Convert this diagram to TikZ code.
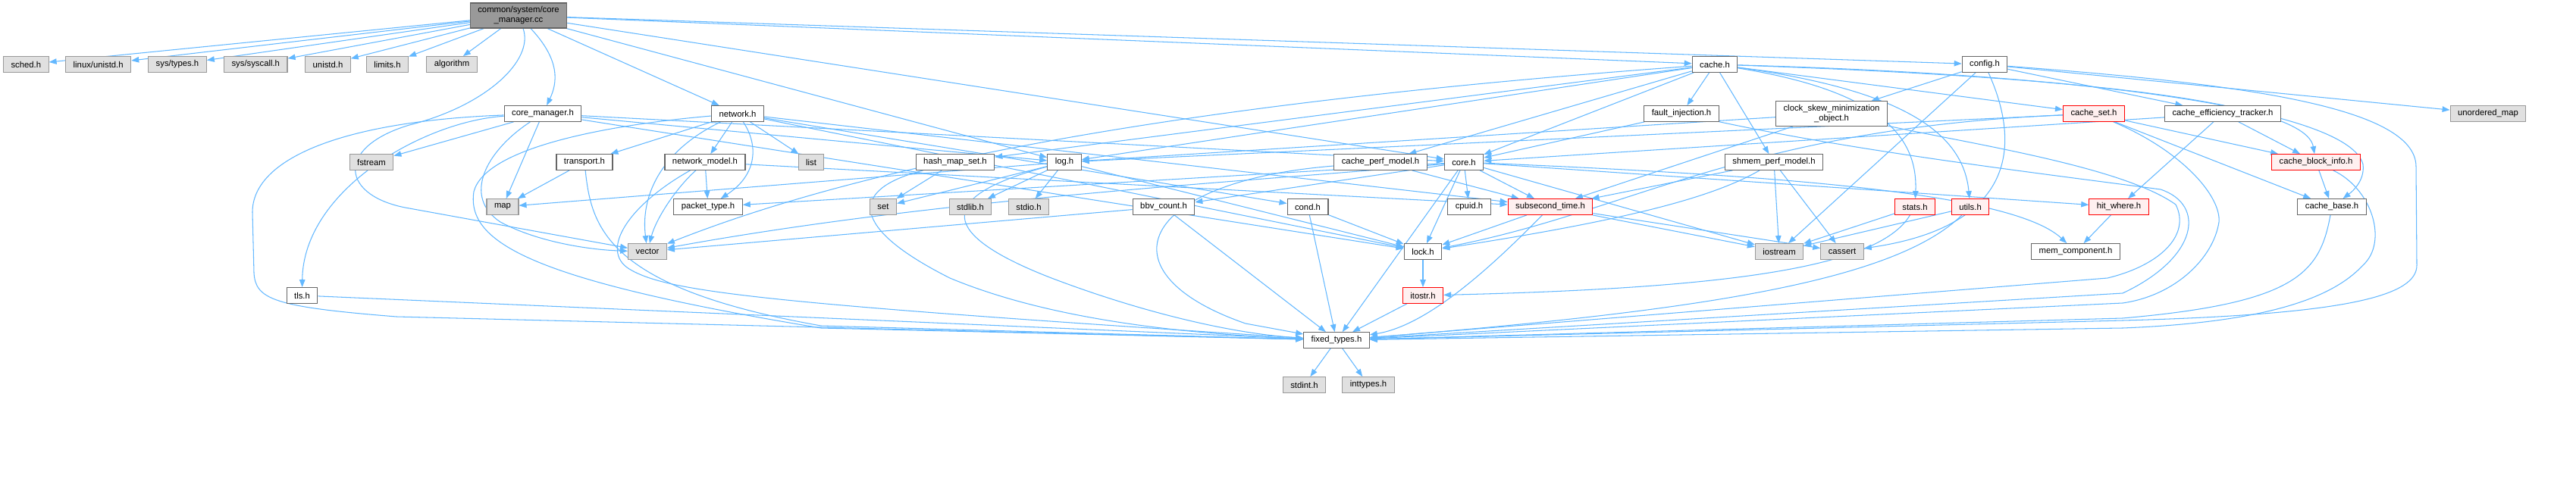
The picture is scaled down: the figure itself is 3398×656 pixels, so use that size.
\documentclass[tikz,border=0pt]{standalone}
\usepackage{fontspec}
\setmainfont{Liberation Sans}
\usetikzlibrary{arrows.meta}
\pgfdeclarelayer{edgelayer}
\pgfsetlayers{edgelayer,main}
\definecolor{edgeblue}{HTML}{63B8FF}
\definecolor{bordernorm}{HTML}{666666}
\definecolor{bordersys}{HTML}{999999}
\definecolor{fillsys}{HTML}{E0E0E0}
\definecolor{filltop}{HTML}{999999}
\definecolor{bordertr}{HTML}{FF0000}
\definecolor{filltr}{HTML}{FFF0F0}
\begin{document}
\begin{tikzpicture}[x=1pt,y=-1pt,
  base/.style={rectangle, minimum height=20.7pt, inner xsep=10pt, inner ysep=0pt, line width=1.1pt,
    font=\fontsize{11.3}{13}\selectfont},
  norm/.style={base, draw=bordernorm, fill=white},
  sys/.style={base, draw=bordersys, fill=fillsys},
  trunc/.style={base, draw=bordertr, fill=filltr},
  topnode/.style={base, draw=bordernorm, fill=filltop, align=center, minimum height=33pt},
  edge/.style={draw=edgeblue, line width=1.05pt, -{Triangle[length=10pt,width=7.5pt]}}]
\def\ra{85}\def\rb{150}\def\rc{214}\def\rd{273}\def\re{332}\def\rf{390}\def\rg{449}\def\rh{508}
% ---------- nodes ----------
\node[topnode] (cc) at (684,20.5) {common/system/core\\\_manager.cc};
\node[sys] (sched) at (34.3,\ra) {sched.h};
\node[sys] (lunistd) at (129.7,\ra) {linux/unistd.h};
\node[sys] (systypes) at (234,\ra) {sys/types.h};
\node[sys] (syscall) at (337.3,\ra) {sys/syscall.h};
\node[sys] (unistd) at (432.5,\ra) {unistd.h};
\node[sys] (limits) at (511,\ra) {limits.h};
\node[sys] (algorithm) at (596,\ra) {algorithm};
\node[norm] (cache) at (2262,\ra) {cache.h};
\node[norm] (config) at (2618,\ra) {config.h};
\node[norm] (cmh) at (716,\rb) {core\_manager.h};
\node[norm] (network) at (973,\rb) {network.h};
\node[norm] (fault) at (2218,\rb) {fault\_injection.h};
\node[norm, minimum height=32.7pt, align=center] (clock) at (2416,\rb) {clock\_skew\_minimization\\\_object.h};
\node[trunc] (cacheset) at (2762,\rb) {cache\_set.h};
\node[norm] (effic) at (2932,\rb) {cache\_efficiency\_tracker.h};
\node[sys] (umap) at (3282,\rb) {unordered\_map};
\node[sys] (fstream) at (490,\rc) {fstream};
\node[norm] (transport) at (771,\rc) {transport.h};
\node[norm] (nmodel) at (930,\rc) {network\_model.h};
\node[sys] (list) at (1070,\rc) {list};
\node[norm] (hashmap) at (1260,\rc) {hash\_map\_set.h};
\node[norm] (log) at (1404,\rc) {log.h};
\node[norm] (cacheperf) at (1821,\rc) {cache\_perf\_model.h};
\node[norm] (core) at (1931,\rc) {core.h};
\node[norm] (shmem) at (2340,\rc) {shmem\_perf\_model.h};
\node[trunc] (cacheblock) at (3055,\rc) {cache\_block\_info.h};
\node[sys] (map) at (663,\rd) {map};
\node[norm] (packet) at (934,\rd) {packet\_type.h};
\node[sys] (set) at (1165,\rd) {set};
\node[sys] (stdlib) at (1280,\rd) {stdlib.h};
\node[sys] (stdio) at (1357,\rd) {stdio.h};
\node[norm] (bbv) at (1535,\rd) {bbv\_count.h};
\node[norm] (cond) at (1725,\rd) {cond.h};
\node[norm] (cpuid) at (1938,\rd) {cpuid.h};
\node[trunc] (subsec) at (2045,\rd) {subsecond\_time.h};
\node[trunc] (stats) at (2526,\rd) {stats.h};
\node[trunc] (utils) at (2599,\rd) {utils.h};
\node[trunc] (hitwhere) at (2795,\rd) {hit\_where.h};
\node[norm] (cachebase) at (3076,\rd) {cache\_base.h};
\node[sys] (vector) at (854,\re) {vector};
\node[norm] (lock) at (1877,\re) {lock.h};
\node[sys] (iostream) at (2347,\re) {iostream};
\node[sys] (cassert) at (2430,\re) {cassert};
\node[norm] (mem) at (2738,\re) {mem\_component.h};
\node[norm] (tls) at (398.5,\rf) {tls.h};
\node[trunc] (itostr) at (1877,\rf) {itostr.h};
\node[norm] (fixed) at (1763,\rg) {fixed\_types.h};
\node[sys] (stdint) at (1720.5,\rh) {stdint.h};
\node[sys] (inttypes) at (1805,\rh) {inttypes.h};
% ---------- edges ----------
\begin{pgfonlayer}{edgelayer}
\fill[white] (0,0) rectangle (3398,656);
% core_manager.cc
\draw[edge] (cc) -- (sched);
\draw[edge] (cc) -- (lunistd);
\draw[edge] (cc) -- (systypes);
\draw[edge] (cc) -- (syscall);
\draw[edge] (cc) -- (unistd);
\draw[edge] (cc) -- (limits);
\draw[edge] (cc) -- (algorithm);
\draw[edge] (cc) .. controls (740,80) and (735,110) .. (cmh);
\draw[edge] (cc) -- (network);
\draw[edge] (cc) .. controls (705,80) and (640,140) .. (540,165) .. controls (440,195) and (450,260) .. (540,275) .. controls (650,295) and (760,315) .. (vector);
\draw[edge] (cc) -- (log);
\draw[edge] (cc) -- (core);
\draw[edge] (cc) -- (cache);
\draw[edge] (cc) -- (config);
% core_manager.h
\draw[edge] (cmh) -- (fstream);
\draw[edge] (cmh) -- (map);
\draw[edge] (cmh) .. controls (640,200) and (610,260) .. (660,293) .. controls (710,320) and (780,330) .. (vector);
\draw[edge] (cmh) .. controls (560,160) and (400,250) .. (tls);
\draw[edge] (cmh) .. controls (450,160) and (333,210) .. (333,280) -- (335,360) .. controls (337,395) and (360,405) .. (523,418) -- (fixed);
\draw[edge] (cmh) -- (log);
\draw[edge] (cmh) -- (lock);
\draw[edge] (cmh) -- (core);
% network.h
\draw[edge] (network) -- (list);
\draw[edge] (network) -- (transport);
\draw[edge] (network) -- (nmodel);
\draw[edge] (network) .. controls (1000,190) and (1000,230) .. (packet);
\draw[edge] (network) .. controls (870,200) and (845,260) .. (vector);
\draw[edge] (network) .. controls (800,165) and (640,195) .. (625,253) .. controls (615,320) and (700,370) .. (1083,433) -- (fixed);
\draw[edge] (network) -- (cond);
\draw[edge] (network) -- (lock);
\draw[edge] (network) -- (subsec);
% transport / network_model
\draw[edge] (transport) -- (map);
\draw[edge] (transport) .. controls (780,300) and (800,380) .. (1083,430) -- (fixed);
\draw[edge] (nmodel) -- (packet);
\draw[edge] (nmodel) .. controls (890,250) and (865,290) .. (vector);
\draw[edge] (nmodel) .. controls (830,270) and (790,330) .. (830,355) .. controls (880,385) and (1000,400) .. (fixed);
\draw[edge] (nmodel) -- (subsec);
% hash_map_set / log
\draw[edge] (hashmap) -- (set);
\draw[edge] (hashmap) .. controls (1120,250) and (1120,300) .. (1253,367) .. controls (1380,420) and (1550,440) .. (fixed);
\draw[edge] (log) -- (map);
\draw[edge] (log) -- (set);
\draw[edge] (log) -- (stdlib);
\draw[edge] (log) -- (stdio);
\draw[edge] (log) -- (lock);
\draw[edge] (log) .. controls (1230,260) and (1240,310) .. (1387,367) .. controls (1500,410) and (1620,440) .. (fixed);
% cache_perf_model / core
\draw[edge] (cacheperf) .. controls (1500,240) and (1450,360) .. (1643,427) -- (fixed);
\draw[edge] (cacheperf) -- (subsec);
\draw[edge] (core) .. controls (2300,230) and (2650,250) .. (mem);
\draw[edge] (core) -- (hitwhere);
\draw[edge] (core) -- (iostream);
\draw[edge] (core) -- (fixed);
\draw[edge] (core) -- (lock);
\draw[edge] (core) -- (cpuid);
\draw[edge] (core) -- (subsec);
\draw[edge] (core) -- (bbv);
\draw[edge] (core) -- (packet);
\draw[edge] (core) .. controls (1650,240) and (1250,260) .. (vector);
% small ones
\draw[edge] (cond) -- (lock);
\draw[edge] (cond) -- (fixed);
\draw[edge] (bbv) -- (vector);
\draw[edge] (bbv) -- (fixed);
\draw[edge] (subsec) -- (lock);
\draw[edge] (subsec) .. controls (1960,360) and (1880,430) .. (fixed);
\draw[edge] (subsec) -- (iostream);
\draw[edge] (subsec) -- (cassert);
\draw[edge] (lock) -- (itostr);
\draw[edge] (itostr) -- (fixed);
\draw[edge] (fixed) -- (stdint);
\draw[edge] (fixed) -- (inttypes);
\draw[edge] (stats) -- (iostream);
\draw[edge] (stats) .. controls (2480,350) and (2300,380) .. (itostr);
\draw[edge] (utils) -- (iostream);
\draw[edge] (utils) .. controls (2500,370) and (2250,410) .. (fixed);
\draw[edge] (shmem) -- (subsec);
\draw[edge] (shmem) .. controls (2260,260) and (2150,290) .. (lock);
\draw[edge] (shmem) -- (iostream);
\draw[edge] (shmem) -- (cassert);
\draw[edge] (fault) -- (core);
\draw[edge] (fault) .. controls (2450,200) and (2700,230) .. (2850,250) .. controls (2910,270) and (2900,340) .. (2800,387) -- (fixed);
\draw[edge] (clock) -- (subsec);
\draw[edge] (clock) -- (log);
\draw[edge] (clock) .. controls (2600,190) and (2800,220) .. (2870,270) .. controls (2890,310) and (2850,350) .. (2780,367) -- (fixed);
% config.h
\draw[edge] (config) -- (clock);
\draw[edge] (config) -- (iostream);
\draw[edge] (config) .. controls (2670,200) and (2650,300) .. (cassert);
\draw[edge] (config) -- (effic);
\draw[edge] (config) -- (umap);
\draw[edge] (config) .. controls (2950,110) and (3187,140) .. (3187,220) -- (3188,350) .. controls (3188,390) and (3100,415) .. (2800,423) -- (fixed);
% cache.h
\draw[edge] (cache) -- (hashmap);
\draw[edge] (cache) -- (log);
\draw[edge] (cache) -- (core);
\draw[edge] (cache) -- (cacheperf);
\draw[edge] (cache) -- (fault);
\draw[edge] (cache) -- (shmem);
\draw[edge] (cache) .. controls (2480,120) and (2530,180) .. (stats);
\draw[edge] (cache) .. controls (2520,120) and (2590,180) .. (utils);
\draw[edge] (cache) -- (cacheset);
\draw[edge] (cache) .. controls (2700,100) and (3040,130) .. (cacheblock);
\draw[edge] (cache) .. controls (2800,100) and (3100,150) .. (3117,217) .. controls (3120,240) and (3100,255) .. (cachebase);
\draw[edge] (cache) .. controls (1643,130) and (1187,200) .. (vector);
% cache_set.h etc.
\draw[edge] (cacheset) -- (cacheblock);
\draw[edge] (cacheset) -- (cachebase);
\draw[edge] (cacheset) -- (log);
\draw[edge] (cacheset) .. controls (2300,170) and (2150,280) .. (lock);
\draw[edge] (cacheset) .. controls (2880,200) and (2930,260) .. (2927,293) .. controls (2920,340) and (2870,390) .. (2800,400) -- (fixed);
\draw[edge] (effic) -- (cacheblock);
\draw[edge] (effic) -- (hitwhere);
\draw[edge] (effic) -- (core);
\draw[edge] (cacheblock) -- (cachebase);
\draw[edge] (cacheblock) .. controls (3130,250) and (3150,320) .. (3117,350) .. controls (3080,390) and (3000,425) .. (2800,433) -- (fixed);
\draw[edge] (cachebase) .. controls (3060,360) and (3030,400) .. (2800,420) -- (fixed);
\draw[edge] (hitwhere) -- (mem);
\draw[edge] (tls) -- (fixed);
\end{pgfonlayer}
\end{tikzpicture}
\end{document}
